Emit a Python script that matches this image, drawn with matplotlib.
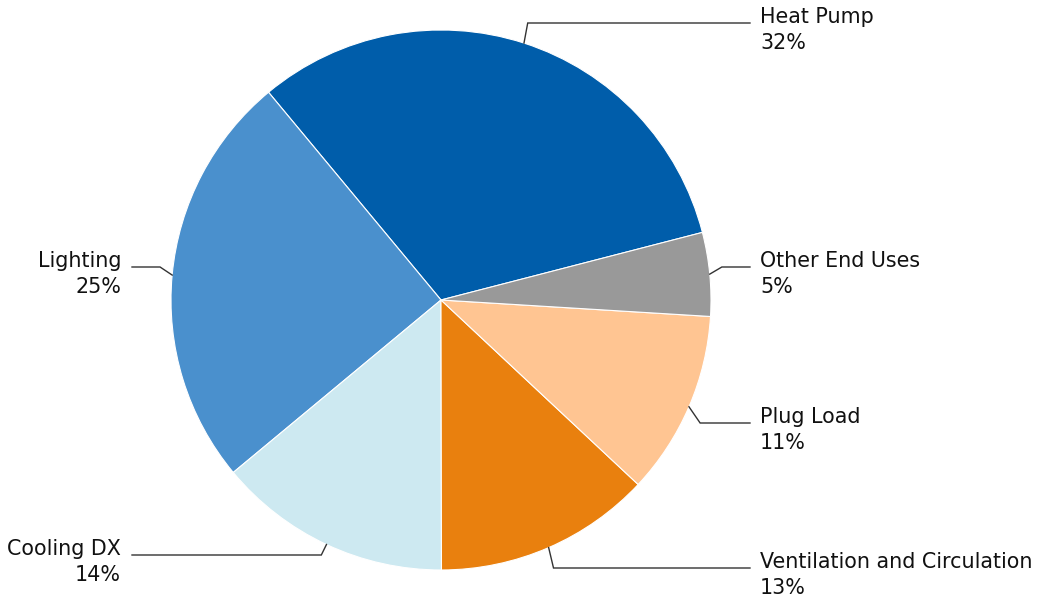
import numpy as np
import matplotlib.pyplot as plt

labels = ["Heat Pump", "Lighting", "Cooling DX", "Ventilation and Circulation",
          "Plug Load", "Other End Uses"]
shares = [32, 25, 14, 13, 11, 5]
colors = ["#005DAA", "#4A90CD", "#CDE9F1", "#E9800E", "#FFC592", "#999999"]

# label baseline heights, pixels from the top (layout only)
label_y = [23, 267, 555, 568, 423, 267]

W, H = 1037, 597
fig = plt.figure(figsize=(W / 100, H / 100), dpi=100)
ax = fig.add_axes([0, 0, 1, 1])

cx, cy, r = 441, H - 300, 270
wedges, _ = ax.pie(shares, colors=colors, startangle=14.5, counterclock=True,
                   center=(cx, cy), radius=r, frame=True,
                   wedgeprops=dict(edgecolor="white", linewidth=0.8))
ax.set_xlim(0, W)
ax.set_ylim(0, H)
ax.set_aspect("equal")
ax.axis("off")

fs = 14.9
for w, name, pct, ly in zip(wedges, labels, shares, label_y):
    mid = np.deg2rad((w.theta1 + w.theta2) / 2)
    x0, y0 = cx + r * np.cos(mid), cy + r * np.sin(mid)
    x1, y1 = cx + 1.045 * r * np.cos(mid), H - ly
    if np.cos(mid) >= 0:
        x2, tx, ha = 750, 760, "left"
    else:
        x2, tx, ha = 132, 121, "right"
    ax.plot([x0, x1, x2], [y0, y1, y1], color="#333333", lw=1.0,
            solid_joinstyle="miter")
    ax.text(tx, y1, name, ha=ha, va="baseline", fontsize=fs, color="#111111")
    ax.text(tx, y1 - 26, f"{pct}%", ha=ha, va="baseline", fontsize=fs,
            color="#111111")

fig.savefig("out.png", dpi=100)
